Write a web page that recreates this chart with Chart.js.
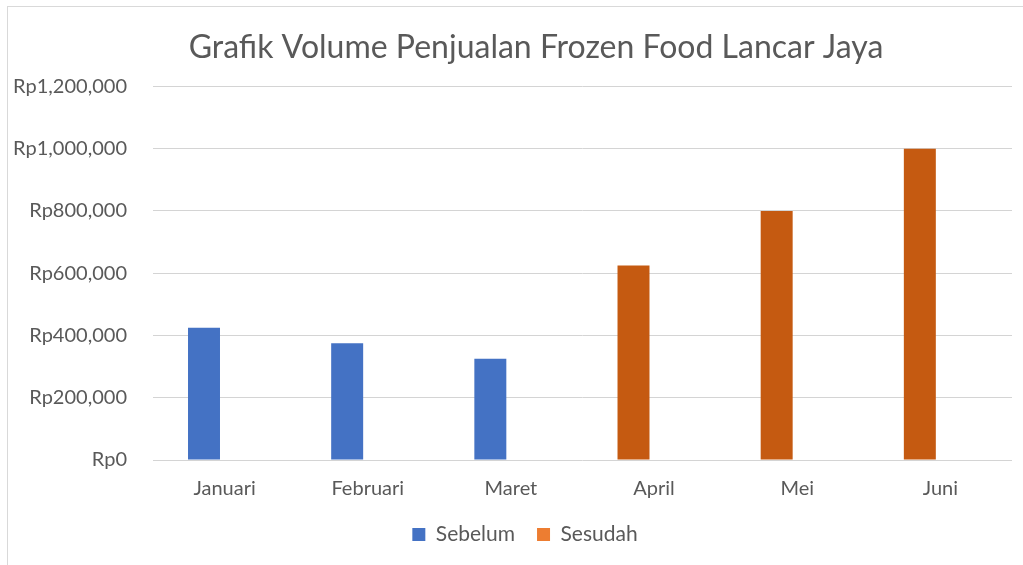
<!DOCTYPE html>
<html>
<head>
<meta charset="utf-8">
<title>Grafik Volume Penjualan</title>
<script src="https://cdn.jsdelivr.net/npm/chart.js@4.4.0/dist/chart.umd.min.js"></script>
<style>
  body { margin: 0; background: #fff; }
  #wrap { width: 1023px; height: 565px; }
</style>
</head>
<body>
<div id="wrap"><canvas id="grafik" width="1023" height="565"></canvas></div>
<script>
const bulan = ['Januari', 'Februari', 'Maret', 'April', 'Mei', 'Juni'];
const penjualan = [425000, 375000, 325000, 625000, 800000, 1000000];
const periode = ['Sebelum', 'Sebelum', 'Sebelum', 'Sesudah', 'Sesudah', 'Sesudah'];
const yTicks = [0, 200000, 400000, 600000, 800000, 1000000, 1200000];

const biru = '#4472C4';
const oranye = '#C55A11';
const oranyeLegend = '#ED7D31';
const abu = '#595959';
const font = 'Lato, "Open Sans", sans-serif';

// kotak tepi chart, seperti di Excel; judul dan legend digeser sedikit ke kanan
const bingkai = {
  id: 'bingkai',
  afterLayout(chart) {
    if (chart.titleBlock) chart.titleBlock.left = 60;
    if (chart.legend) chart.legend.left = 38;
  },
  beforeDraw(chart) {
    const ctx = chart.ctx;
    ctx.save();
    ctx.fillStyle = '#fff';
    ctx.fillRect(0, 0, chart.width, chart.height);
    ctx.strokeStyle = '#d9d9d9';
    ctx.lineWidth = 1;
    ctx.strokeRect(7.5, 6.5, chart.width + 20, chart.height + 20);
    ctx.restore();
  }
};

const chart = new Chart(document.getElementById('grafik'), {
  type: 'bar',
  data: {
    labels: bulan,
    datasets: [
      {
        label: 'Sebelum',
        data: penjualan,
        backgroundColor: periode.map(p => p === 'Sebelum' ? biru : oranye),
        barPercentage: 0.777,
        categoryPercentage: 0.575,
      },
      {
        label: 'Sesudah',
        data: bulan.map(() => null),
        backgroundColor: oranyeLegend,
        barPercentage: 0.777,
        categoryPercentage: 0.575,
      },
    ],
  },
  options: {
    responsive: false,
    animation: false,
    layout: { padding: { left: 0, right: 11, top: 0, bottom: 10 } },
    scales: {
      x: {
        grid: { display: false, drawTicks: false },
        border: { display: false },
        ticks: { color: abu, font: { family: font, size: 20 }, padding: 17 },
        afterFit(scale) { scale.height = 42; },
      },
      y: {
        min: 0,
        max: 1200000,
        afterBuildTicks(scale) { scale.ticks = yTicks.map(v => ({ value: v })); },
        grid: { color: '#d4d4d4', lineWidth: 1, drawTicks: false },
        border: { display: false },
        ticks: {
          color: abu,
          font: { family: font, size: 20 },
          padding: 26,
          callback: function (value) {
            return 'Rp' + value.toLocaleString('en-US');
          },
        },
        afterFit(scale) { scale.width = 153; },
      },
    },
    plugins: {
      title: {
        display: true,
        text: 'Grafik Volume Penjualan Frozen Food Lancar Jaya',
        color: abu,
        font: { family: font, size: 32, weight: 'normal' },
        padding: { top: 28, bottom: 20 },
      },
      legend: {
        position: 'bottom',
        labels: {
          color: abu,
          font: { family: font, size: 21 },
          boxWidth: 13,
          boxHeight: 13,
          padding: 22,
        },
      },
      tooltip: { enabled: false },
    },
  },
  plugins: [bingkai],
});
</script>
</body>
</html>
